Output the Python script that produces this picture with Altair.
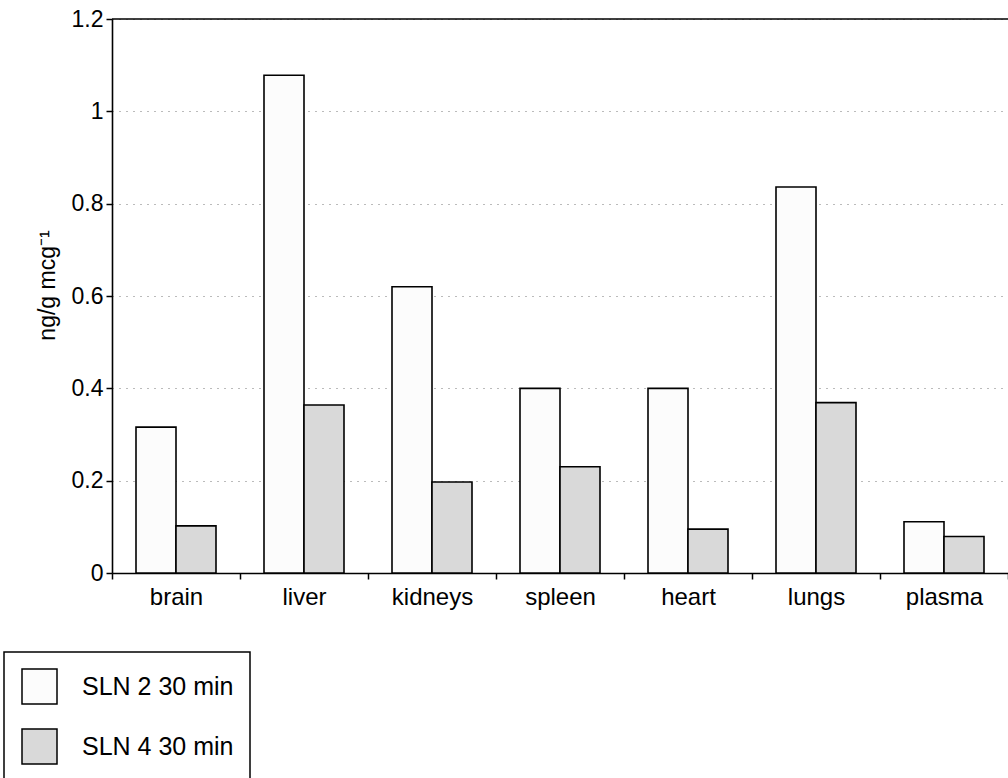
import altair as alt
import pandas as pd

# Tissue distribution of the two formulations, 30 min after dosing
organs = ["brain", "liver", "kidneys", "spleen", "heart", "lungs", "plasma"]
sln2_30min = [0.316, 1.078, 0.620, 0.400, 0.400, 0.836, 0.111]
sln4_30min = [0.102, 0.364, 0.197, 0.230, 0.095, 0.369, 0.079]
series = ["SLN 2 30 min", "SLN 4 30 min"]
y_ticks = [0, 0.2, 0.4, 0.6, 0.8, 1.0, 1.2]

rows = []
for organ, a, b in zip(organs, sln2_30min, sln4_30min):
    rows.append({"organ": organ, "series": series[0], "value": a})
    rows.append({"organ": organ, "series": series[1], "value": b})
df = pd.DataFrame(rows)

FONT = "Liberation Sans"

bars = alt.Chart(df).mark_bar(stroke="black", strokeWidth=1.6).encode(
    x=alt.X(
        "organ:N",
        sort=organs,
        scale=alt.Scale(paddingInner=0, paddingOuter=0),
        axis=alt.Axis(
            title=None,
            labelAngle=0,
            labelFontSize=24,
            labelColor="black",
            labelPadding=6,
            tickBand="extent",
            tickSize=6,
            tickColor="black",
            tickWidth=1.5,
            domainColor="black",
            domainWidth=1.6,
            grid=False,
        ),
    ),
    xOffset=alt.XOffset(
        "series:N", sort=series, scale=alt.Scale(paddingInner=0, paddingOuter=0.6)
    ),
    y=alt.Y(
        "value:Q",
        scale=alt.Scale(domain=[0, 1.2], nice=False, zero=True),
        axis=alt.Axis(
            values=y_ticks,
            format="~g",
            title="ng/g mcg⁻¹",
            titleFontSize=23,
            titleFontWeight="normal",
            titleColor="black",
            titleAngle=270,
            titleAlign="center",
            titleBaseline="alphabetic",
            titleX=-58,
            titleY=266,
            labelFontSize=23,
            labelColor="black",
            labelPadding=3,
            tickSize=6,
            tickColor="black",
            tickWidth=1.5,
            domainColor="black",
            domainWidth=1.6,
            gridColor="#777777",
            gridDash=[1, 6],
            gridWidth=1,
        ),
    ),
    fill=alt.Fill(
        "series:N",
        sort=series,
        scale=alt.Scale(domain=series, range=["#fcfcfc", "#d9d9d9"]),
        legend=alt.Legend(
            title=None,
            orient="none",
            legendX=-108,
            legendY=633,
            padding=16,
            strokeColor="black",
            symbolType="square",
            symbolSize=1225,
            symbolOffset=1,
            symbolStrokeColor="black",
            symbolStrokeWidth=1.5,
            labelFontSize=25,
            labelColor="black",
            labelOffset=24,
            rowPadding=19,
        ),
    ),
)

top_line = alt.Chart(pd.DataFrame({"v": [y_ticks[-1]]})).mark_rule(
    color="black", strokeWidth=1.6
).encode(y="v:Q")

chart = (
    alt.layer(bars, top_line)
    .properties(
        width=896,
        height=554,
        padding={"left": 112, "top": 19, "right": 0, "bottom": 205},
        autosize=alt.AutoSizeParams(type="none"),
        background="white",
    )
    .configure(font=FONT)
    .configure_view(strokeWidth=0)
    .configure_legend(strokeWidth=1.5)
)

chart.save("out.html", embed_options={"renderer": "svg", "actions": False})
